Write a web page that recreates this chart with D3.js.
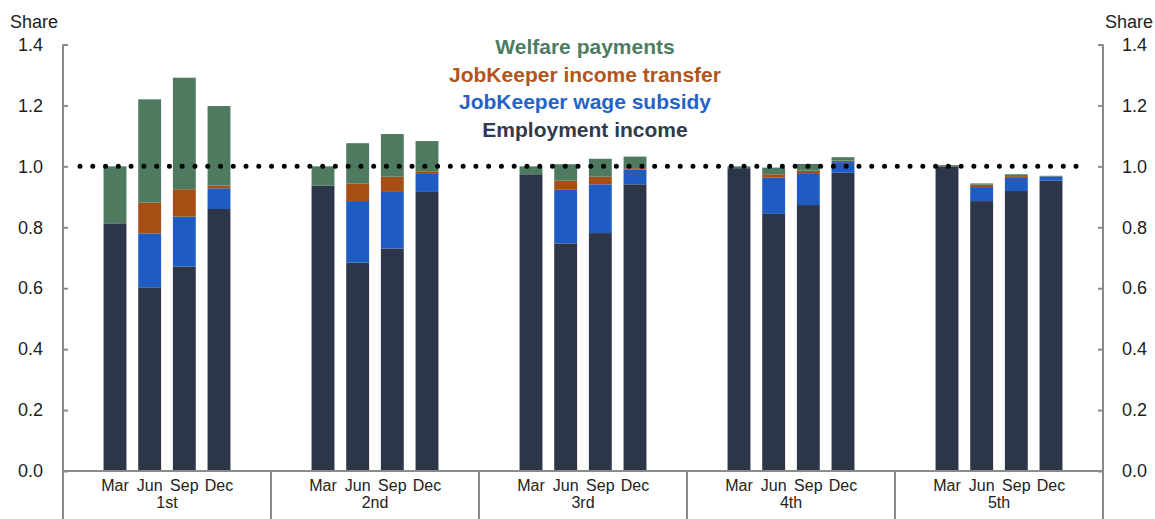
<!DOCTYPE html>
<html>
<head>
<meta charset="utf-8">
<script src="https://cdn.jsdelivr.net/npm/d3@7"></script>
<style>
  body { margin: 0; background: #fff; }
  text { font-family: "Liberation Sans", Arial, sans-serif; }
</style>
</head>
<body>
<div class="container"></div>
<script>
const w = 1155;
const h = 519;

const groups = ['1st', '2nd', '3rd', '4th', '5th'];
const quarters = ['Mar', 'Jun', 'Sep', 'Dec'];
const yTicks = [0, 0.2, 0.4, 0.6, 0.8, 1.0, 1.2, 1.4];

// one value per bar, quintile by quintile, Mar..Dec
const employment = [
  0.813, 0.603, 0.671, 0.860,
  0.937, 0.684, 0.730, 0.916,
  0.974, 0.747, 0.781, 0.941,
  0.994, 0.844, 0.873, 0.979,
  1.000, 0.886, 0.919, 0.953,
];
const wageSubsidy = [
  0, 0.177, 0.164, 0.068,
  0, 0.202, 0.186, 0.059,
  0, 0.176, 0.160, 0.048,
  0, 0.119, 0.102, 0.035,
  0, 0.046, 0.043, 0.013,
];
const incomeTransfer = [
  0, 0.101, 0.090, 0.009,
  0, 0.058, 0.050, 0.007,
  0, 0.030, 0.025, 0.005,
  0, 0.011, 0.011, 0.005,
  0, 0.008, 0.006, 0,
];
const welfare = [
  0.187, 0.339, 0.366, 0.261,
  0.063, 0.132, 0.140, 0.101,
  0.026, 0.054, 0.059, 0.038,
  0.006, 0.022, 0.022, 0.011,
  0.004, 0.004, 0.006, 0.003,
];
const reference = 1.0;

const series = [
  { key: 'employment', name: 'Employment income', bar: '#2c3648', text: '#2e3a4e' },
  { key: 'wageSubsidy', name: 'JobKeeper wage subsidy', bar: '#1e5bc3', text: '#2463c8' },
  { key: 'incomeTransfer', name: 'JobKeeper income transfer', bar: '#a54f15', text: '#b0561d' },
  { key: 'welfare', name: 'Welfare payments', bar: '#4e7a60', text: '#4e7c62' },
];

let svg = null;

window.onload = function () {
  svg = d3.select('.container').append('svg').attr('width', w).attr('height', h);
  draw();
};

function draw() {
  const left = 63, right = 1103, top = 44.5, bottom = 471;
  const axisColor = '#8a8a8a';

  const rows = [];
  groups.forEach((g, gi) => {
    quarters.forEach((q, qi) => {
      const i = gi * 4 + qi;
      rows.push({
        group: g, quarter: q,
        employment: employment[i],
        wageSubsidy: wageSubsidy[i],
        incomeTransfer: incomeTransfer[i],
        welfare: welfare[i],
      });
    });
  });

  const y = d3.scaleLinear().domain([0, 1.4]).range([bottom, top]);
  const x0 = d3.scaleBand().domain(groups).range([left, right]);
  const gw = x0.bandwidth();
  const x1 = d3.scaleBand().domain(quarters)
    .range([gw / 6, gw * 5 / 6])
    .paddingInner(0.34)
    .paddingOuter(0.17);

  const stack = d3.stack().keys(series.map((s) => s.key));
  const layers = stack(rows);

  svg.append('g')
    .selectAll('g')
    .data(layers)
    .enter()
    .append('g')
    .attr('fill', (d, i) => series[i].bar)
    .selectAll('rect')
    .data((d) => d)
    .enter()
    .append('rect')
    .attr('x', (d) => x0(d.data.group) + x1(d.data.quarter))
    .attr('width', x1.bandwidth())
    .attr('y', (d) => y(d[1]))
    .attr('height', (d) => Math.max(0, y(d[0]) - y(d[1])));

  // dotted reference line at 1.0
  svg.append('line')
    .attr('x1', 80).attr('x2', 1082)
    .attr('y1', y(reference)).attr('y2', y(reference))
    .attr('stroke', '#000')
    .attr('stroke-width', 5)
    .attr('stroke-linecap', 'round')
    .attr('stroke-dasharray', '0 12.77');

  // left axis
  const yl = svg.append('g')
    .attr('transform', `translate(${left},0)`)
    .call(d3.axisLeft(y).tickValues(yTicks).tickFormat(d3.format('.1f'))
      .tickSizeInner(-5).tickSizeOuter(0).tickPadding(20));
  const yr = svg.append('g')
    .attr('transform', `translate(${right},0)`)
    .call(d3.axisRight(y).tickValues(yTicks).tickFormat(d3.format('.1f'))
      .tickSizeInner(-5).tickSizeOuter(0).tickPadding(19));
  [yl, yr].forEach((a) => {
    a.select('.domain').remove();
    a.selectAll('line').attr('stroke', axisColor).attr('stroke-width', 2);
    a.selectAll('text')
      .attr('font-size', 18)
      .attr('font-family', '"Liberation Sans", Arial, sans-serif')
      .attr('fill', '#222');
  });

  svg.append('line')
    .attr('x1', left).attr('x2', left).attr('y1', top).attr('y2', h)
    .attr('stroke', axisColor).attr('stroke-width', 2);
  svg.append('line')
    .attr('x1', right).attr('x2', right).attr('y1', top).attr('y2', h)
    .attr('stroke', axisColor).attr('stroke-width', 2);
  svg.append('line')
    .attr('x1', left).attr('x2', right).attr('y1', y(0)).attr('y2', y(0))
    .attr('stroke', axisColor).attr('stroke-width', 2);

  // group separators
  svg.selectAll('.sep')
    .data(groups.slice(1))
    .enter()
    .append('line')
    .attr('class', 'sep')
    .attr('x1', (d) => x0(d)).attr('x2', (d) => x0(d))
    .attr('y1', y(0)).attr('y2', h)
    .attr('stroke', axisColor).attr('stroke-width', 2);

  // quarter labels and quintile labels
  svg.selectAll('.qlab')
    .data(rows)
    .enter()
    .append('text')
    .attr('class', 'qlab')
    .attr('x', (d) => x0(d.group) + x1(d.quarter) + x1.bandwidth() / 2)
    .attr('y', 491)
    .attr('text-anchor', 'middle')
    .attr('font-size', 16)
    .attr('fill', '#222')
    .text((d) => d.quarter);

  svg.selectAll('.glab')
    .data(groups)
    .enter()
    .append('text')
    .attr('class', 'glab')
    .attr('x', (d) => x0(d) + gw / 2)
    .attr('y', 508)
    .attr('text-anchor', 'middle')
    .attr('font-size', 16)
    .attr('fill', '#222')
    .text((d) => d);

  // unit labels
  svg.append('text').attr('x', 10).attr('y', 28)
    .attr('font-size', 18).attr('fill', '#222').text('Share');
  svg.append('text').attr('x', 1153).attr('y', 28)
    .attr('text-anchor', 'end')
    .attr('font-size', 18).attr('fill', '#222').text('Share');

  // legend, top to bottom
  const legend = series.slice().reverse();
  svg.selectAll('.leg')
    .data(legend)
    .enter()
    .append('text')
    .attr('class', 'leg')
    .attr('x', 585)
    .attr('y', (d, i) => 54 + i * 27.7)
    .attr('text-anchor', 'middle')
    .attr('font-size', 21)
    .attr('font-weight', 'bold')
    .attr('fill', (d) => d.text)
    .text((d) => d.name);
}
</script>
</body>
</html>
